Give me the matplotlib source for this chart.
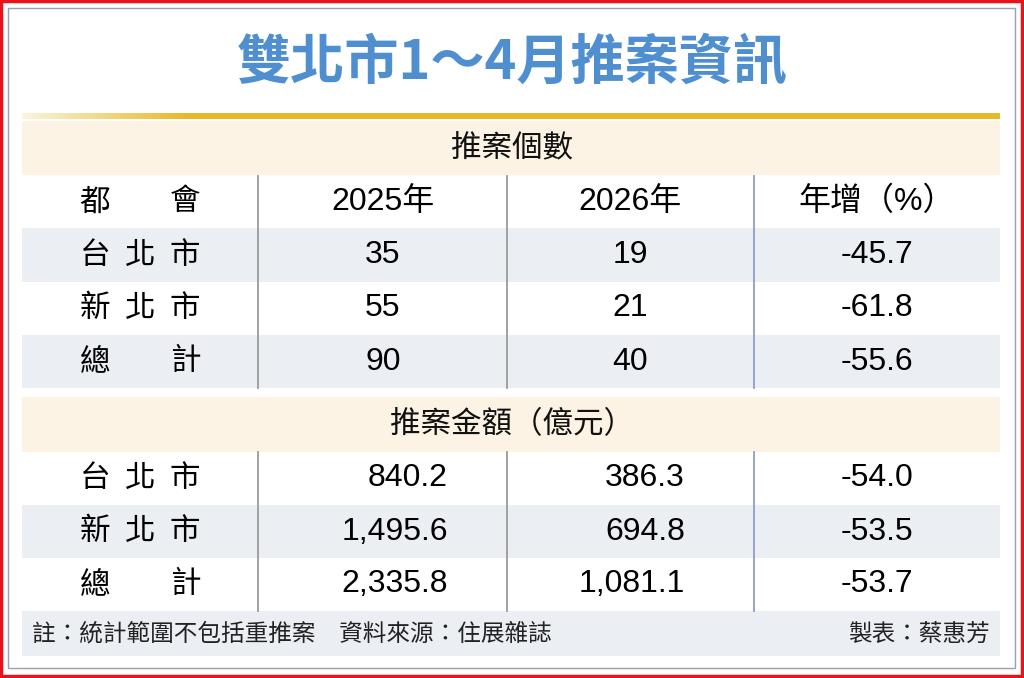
import matplotlib
matplotlib.use("Agg")
import matplotlib.pyplot as plt
from matplotlib.patches import Rectangle
from matplotlib.colors import LinearSegmentedColormap
import numpy as np

plt.rcParams['font.family'] = ['Noto Sans CJK TC', 'DejaVu Sans']
NUM = ['Liberation Sans', 'Noto Sans CJK TC']

title = "雙北市1～4月推案資訊"
section1 = "推案個數"
section2 = "推案金額（億元）"
headers = ["2025年", "2026年", "年增（%）"]
cities = [["台", "北", "市"], ["新", "北", "市"], ["總", "", "計"]]
count_2025 = ["35", "55", "90"]
count_2026 = ["19", "21", "40"]
count_yoy = ["-45.7", "-61.8", "-55.6"]
amt_2025 = ["840.2", "1,495.6", "2,335.8"]
amt_2026 = ["386.3", "694.8", "1,081.1"]
amt_yoy = ["-54.0", "-53.5", "-53.7"]
note_left = "註：統計範圍不包括重推案　資料來源：住展雜誌"
note_right = "製表：蔡惠芳"

fig = plt.figure(figsize=(10.24, 6.78), dpi=100)
ax = fig.add_axes([0, 0, 1, 1])

ax.add_patch(Rectangle((1, 1), 1021, 675, fill=False, ec='#e8141c', lw=2.5))
ax.add_patch(Rectangle((8, 8), 1007, 660, fill=False, ec='#9aa0a8', lw=1))

ax.text(512, 64, title, ha='center', va='center', fontsize=39, color='#4f8fcf', fontweight='bold',
        family=NUM[::-1])

grad = np.clip(np.linspace(0, 1, 256).reshape(1, -1) * 6, 0, 1)
cm = LinearSegmentedColormap.from_list('g', ['#fbf3dc', '#e9b82a'])
ax.imshow(grad, cmap=cm, extent=(22, 1000, 119, 113), aspect='auto', zorder=2)
ax.set_xlim(0, 1024); ax.set_ylim(678, 0); ax.axis('off')

L, R = 22, 1000
cream = '#fcf3e4'; light = '#ebeff4'; white = '#ffffff'
colx = [140, 383, 630, 877]
cityx = [95, 140, 185]
divs = [(258, '#9a9a9a'), (507, '#9a9a9a'), (754, '#8f9ecb')]

def band(y0, y1, c):
    ax.add_patch(Rectangle((L, y0), R - L, y1 - y0, fc=c, ec='none', zorder=1))

fs = 22
nfs = 23

def city(i, yc):
    for x, ch in zip(cityx, cities[i]):
        if ch:
            ax.text(x, yc, ch, ha='center', va='center', fontsize=fs)

band(121, 175, cream)
ax.text(512, 149, section1, ha='center', va='center', fontsize=fs, color='#111')
ax.text(95, 202, "都", ha='center', va='center', fontsize=fs)
ax.text(185, 202, "會", ha='center', va='center', fontsize=fs)
for x, h in zip(colx[1:], headers):
    ax.text(x, 202, h, ha='center', va='center', fontsize=nfs, family=NUM)
rows1 = [(228, 282), (282, 335), (335, 388)]
for i, ((y0, y1), bg) in enumerate(zip(rows1, [light, white, light])):
    band(y0, y1, bg)
    yc = (y0 + y1) / 2
    city(i, yc)
    ax.text(colx[1], yc, count_2025[i], ha='center', va='center', fontsize=nfs, family=NUM)
    ax.text(colx[2], yc, count_2026[i], ha='center', va='center', fontsize=nfs, family=NUM)
    ax.text(colx[3], yc, count_yoy[i], ha='center', va='center', fontsize=nfs, family=NUM)
for x, c in divs:
    ax.plot([x, x], [176, 388], color=c, lw=1.3, zorder=3)

band(397, 452, cream)
ax.text(512, 425, section2, ha='center', va='center', fontsize=fs, color='#111')
rows2 = [(452, 505), (505, 558), (558, 611)]
for i, ((y0, y1), bg) in enumerate(zip(rows2, [white, light, white])):
    band(y0, y1, bg)
    yc = (y0 + y1) / 2
    city(i, yc)
    ax.text(448, yc, amt_2025[i], ha='right', va='center', fontsize=nfs, family=NUM)
    ax.text(685, yc, amt_2026[i], ha='right', va='center', fontsize=nfs, family=NUM)
    ax.text(colx[3], yc, amt_yoy[i], ha='center', va='center', fontsize=nfs, family=NUM)
for x, c in divs:
    ax.plot([x, x], [452, 611], color=c, lw=1.3, zorder=3)

band(611, 656, light)
ax.text(32, 634, note_left, ha='left', va='center', fontsize=17, color='#222')
ax.text(990, 634, note_right, ha='right', va='center', fontsize=17, color='#222')

fig.savefig('out.png', dpi=100)
